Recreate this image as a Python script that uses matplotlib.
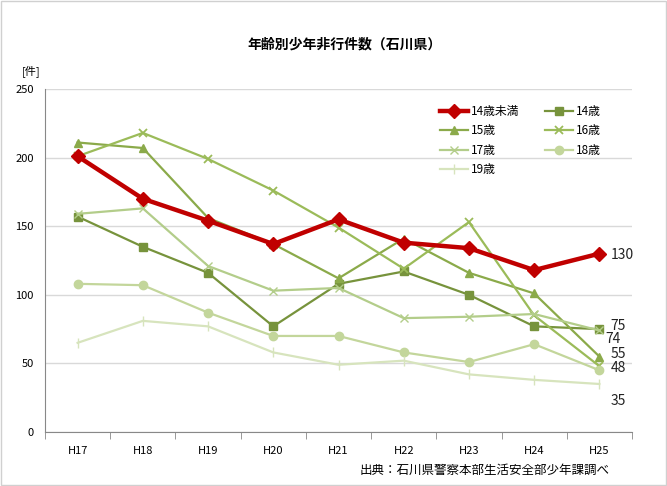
import matplotlib
matplotlib.use("Agg")
import matplotlib.pyplot as plt
import numpy as np

plt.rcParams['font.family'] = ['Noto Sans CJK JP', 'DejaVu Sans']

years = ['H17', 'H18', 'H19', 'H20', 'H21', 'H22', 'H23', 'H24', 'H25']
under14 = [201, 170, 154, 137, 155, 138, 134, 118, 130]
age14 = [157, 135, 116, 77, 108, 117, 100, 77, 75]
age15 = [211, 207, 156, 137, 112, 141, 116, 101, 55]
age16 = [201, 218, 199, 176, 149, 119, 153, 85, 48]
age17 = [159, 163, 121, 103, 105, 83, 84, 86, 74]
age18 = [108, 107, 87, 70, 70, 58, 51, 64, 45]
age19 = [65, 81, 77, 58, 49, 52, 42, 38, 35]

fig = plt.figure(figsize=(6.67, 4.86), dpi=100)
ax = fig.add_axes([45 / 667, 1 - 432 / 486, 587 / 667, 343 / 486])

x = np.arange(len(years))

h = {}
h['14歳未満'], = ax.plot(x, under14, color='#C00000', lw=3.2, marker='D', ms=7, zorder=10)
h['14歳'], = ax.plot(x, age14, color='#77933C', lw=1.6, marker='s', ms=6)
h['15歳'], = ax.plot(x, age15, color='#8BAA4A', lw=1.6, marker='^', ms=6)
h['16歳'], = ax.plot(x, age16, color='#9BBB59', lw=1.6, marker='x', ms=6, mew=1.3)
h['17歳'], = ax.plot(x, age17, color='#B3CD8A', lw=1.6, marker='x', ms=6, mew=1.0)
h['18歳'], = ax.plot(x, age18, color='#C3D69B', lw=1.6, marker='o', ms=6)
h['19歳'], = ax.plot(x, age19, color='#D7E4BD', lw=1.6, marker='|', ms=7)

# end labels (value, text, x offset, y offset in points)
end_labels = [(under14[-1], '130', 8, -1), (age14[-1], '75', 8, 2), (age17[-1], '74', 4, -6.5),
              (age15[-1], '55', 8, 1.5), (age16[-1], '48', 8, -1.5), (age19[-1], '35', 8, -12)]
for val, txt, dx, dy in end_labels:
    ax.annotate(txt, (x[-1], val), xytext=(dx, dy), textcoords='offset points',
                va='center', ha='left', fontsize=10, color='#222222', annotation_clip=False)

ax.set_xlim(-0.5, len(years) - 0.5)
ax.set_ylim(0, 250)
ax.set_yticks(range(0, 251, 50))
ax.set_xticks(x)
ax.set_xticklabels(years)
ax.set_xticks(np.arange(-0.5, len(years), 1), minor=True)
ax.tick_params(axis='x', which='major', length=0, labelsize=8, pad=10)
ax.tick_params(axis='x', which='minor', length=5, color='#888888')
ax.tick_params(axis='y', length=0, labelsize=8, pad=8)
ax.grid(axis='y', color='#D9D9D9', lw=1)
ax.set_axisbelow(True)
for s in ['top', 'right']:
    ax.spines[s].set_visible(False)
ax.spines['left'].set_color('#888888')
ax.spines['bottom'].set_color('#888888')

# row-major order like the original legend
order = ['14歳未満', '15歳', '17歳', '19歳', '14歳', '16歳', '18歳']
leg = ax.legend([h[k] for k in order], order, ncol=2, loc='upper left',
                bbox_to_anchor=(0.655, 0.985), frameon=False, fontsize=8.5,
                handlelength=2.4, columnspacing=2.2, labelspacing=0.55,
                handletextpad=0.2)

fig.text(345 / 667, 1 - 45 / 486, '年齢別少年非行件数（石川県）', ha='center', va='center',
         fontsize=10, fontweight='bold')
fig.text(22 / 667, 1 - 72 / 486, '[件]', ha='left', va='center', fontsize=8)
fig.text(610 / 667, 1 - 470 / 486, '出典：石川県警察本部生活安全部少年課調べ', ha='right',
         va='center', fontsize=9)

fig.patches.append(plt.Rectangle((0.002, 0.002), 0.996, 0.996, transform=fig.transFigure,
                                 fill=False, edgecolor='#D0D0D0', lw=1))

fig.savefig('out.png', dpi=100)
